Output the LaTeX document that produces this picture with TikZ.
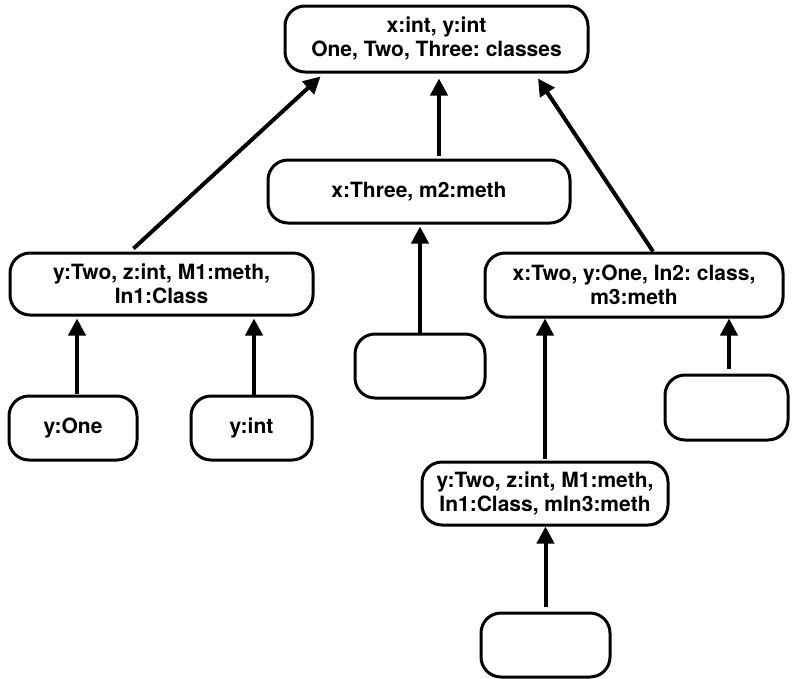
\documentclass[tikz,border=0pt]{standalone}
\usepackage{fontspec}
\setmainfont{TeX Gyre Heros}
\frenchspacing
\usetikzlibrary{arrows.meta}

\begin{document}
\begin{tikzpicture}[x=1pt,y=-1pt,
	box/.style={draw,line width=3pt,rounded corners=20pt,align=center,inner sep=2pt,
		font=\fontsize{21}{24}\selectfont\bfseries},
	link/.style={line width=4pt,-{Triangle[length=17pt,width=17pt]}}]
	
	% fixed frame, same size as the reference
	\useasboundingbox (0,0) rectangle (792,678);
	
	% ======================================================
	% Scopes (boxes)
	% ======================================================
	\node[box,minimum width=303pt,minimum height=66pt] (top) at (436.5,39)
	{x:int, y:int\\One, Two, Three: classes};
	\node[box,minimum width=302pt,minimum height=63pt] (three) at (419,191.5)
	{x:Three, m2:meth};
	\node[box,minimum width=303pt,minimum height=62pt] (lone) at (161.5,284)
	{y:Two, z:int, M1:meth,\\In1:Class};
	\node[box,minimum width=298pt,minimum height=64pt] (ltwo) at (634,285)
	{x:Two, y:One, In2: class,\\m3:meth};
	\node[box,minimum width=128pt,minimum height=64pt] (yone) at (73,428) {y:One};
	\node[box,minimum width=121pt,minimum height=64pt] (yint) at (251.5,428) {y:int};
	\node[box,minimum width=130pt,minimum height=64pt] (emptyA) at (420,366) {};
	\node[box,minimum width=123pt,minimum height=65pt] (emptyB) at (726.5,407.5) {};
	\node[box,minimum width=246pt,minimum height=63pt] (lthree) at (545,493.5)
	{y:Two, z:int, M1:meth,\\In1:Class, mIn3:meth};
	\node[box,minimum width=129pt,minimum height=64pt] (emptyC) at (545.5,645) {};
	
	% ======================================================
	% Links up to the enclosing scope
	% ======================================================
	\draw[link] ([xshift=-28pt,yshift=3pt]lone.north) -- ([xshift=-116pt,yshift=-3pt]top.south);
	\draw[link] ([xshift=20pt,yshift=3pt]three.north) -- ([xshift=2.5pt,yshift=-5pt]top.south);
	\draw[link] ([xshift=19pt]ltwo.north) -- ([xshift=101.5pt,yshift=-5pt]top.south);
	
	\draw[link] ([xshift=4pt,yshift=1pt]yone.north) -- ([xshift=4pt,yshift=-2pt]yone.north |- lone.south);
	\draw[link] ([xshift=2.5pt]yint.north) -- ([xshift=2.5pt,yshift=-2pt]yint.north |- lone.south);
	\draw[link] (emptyA.north) -- ([yshift=-2pt]emptyA.north |- three.south);
	
	\draw[link] ([yshift=2pt]lthree.north) -- (lthree.north |- ltwo.south);
	\draw[link] ([xshift=2.5pt,yshift=5pt]emptyB.north) -- ([xshift=2.5pt]emptyB.north |- ltwo.south);
	\draw[link] ([yshift=5pt]emptyC.north) -- (emptyC.north |- lthree.south);
	
\end{tikzpicture}
\end{document}
